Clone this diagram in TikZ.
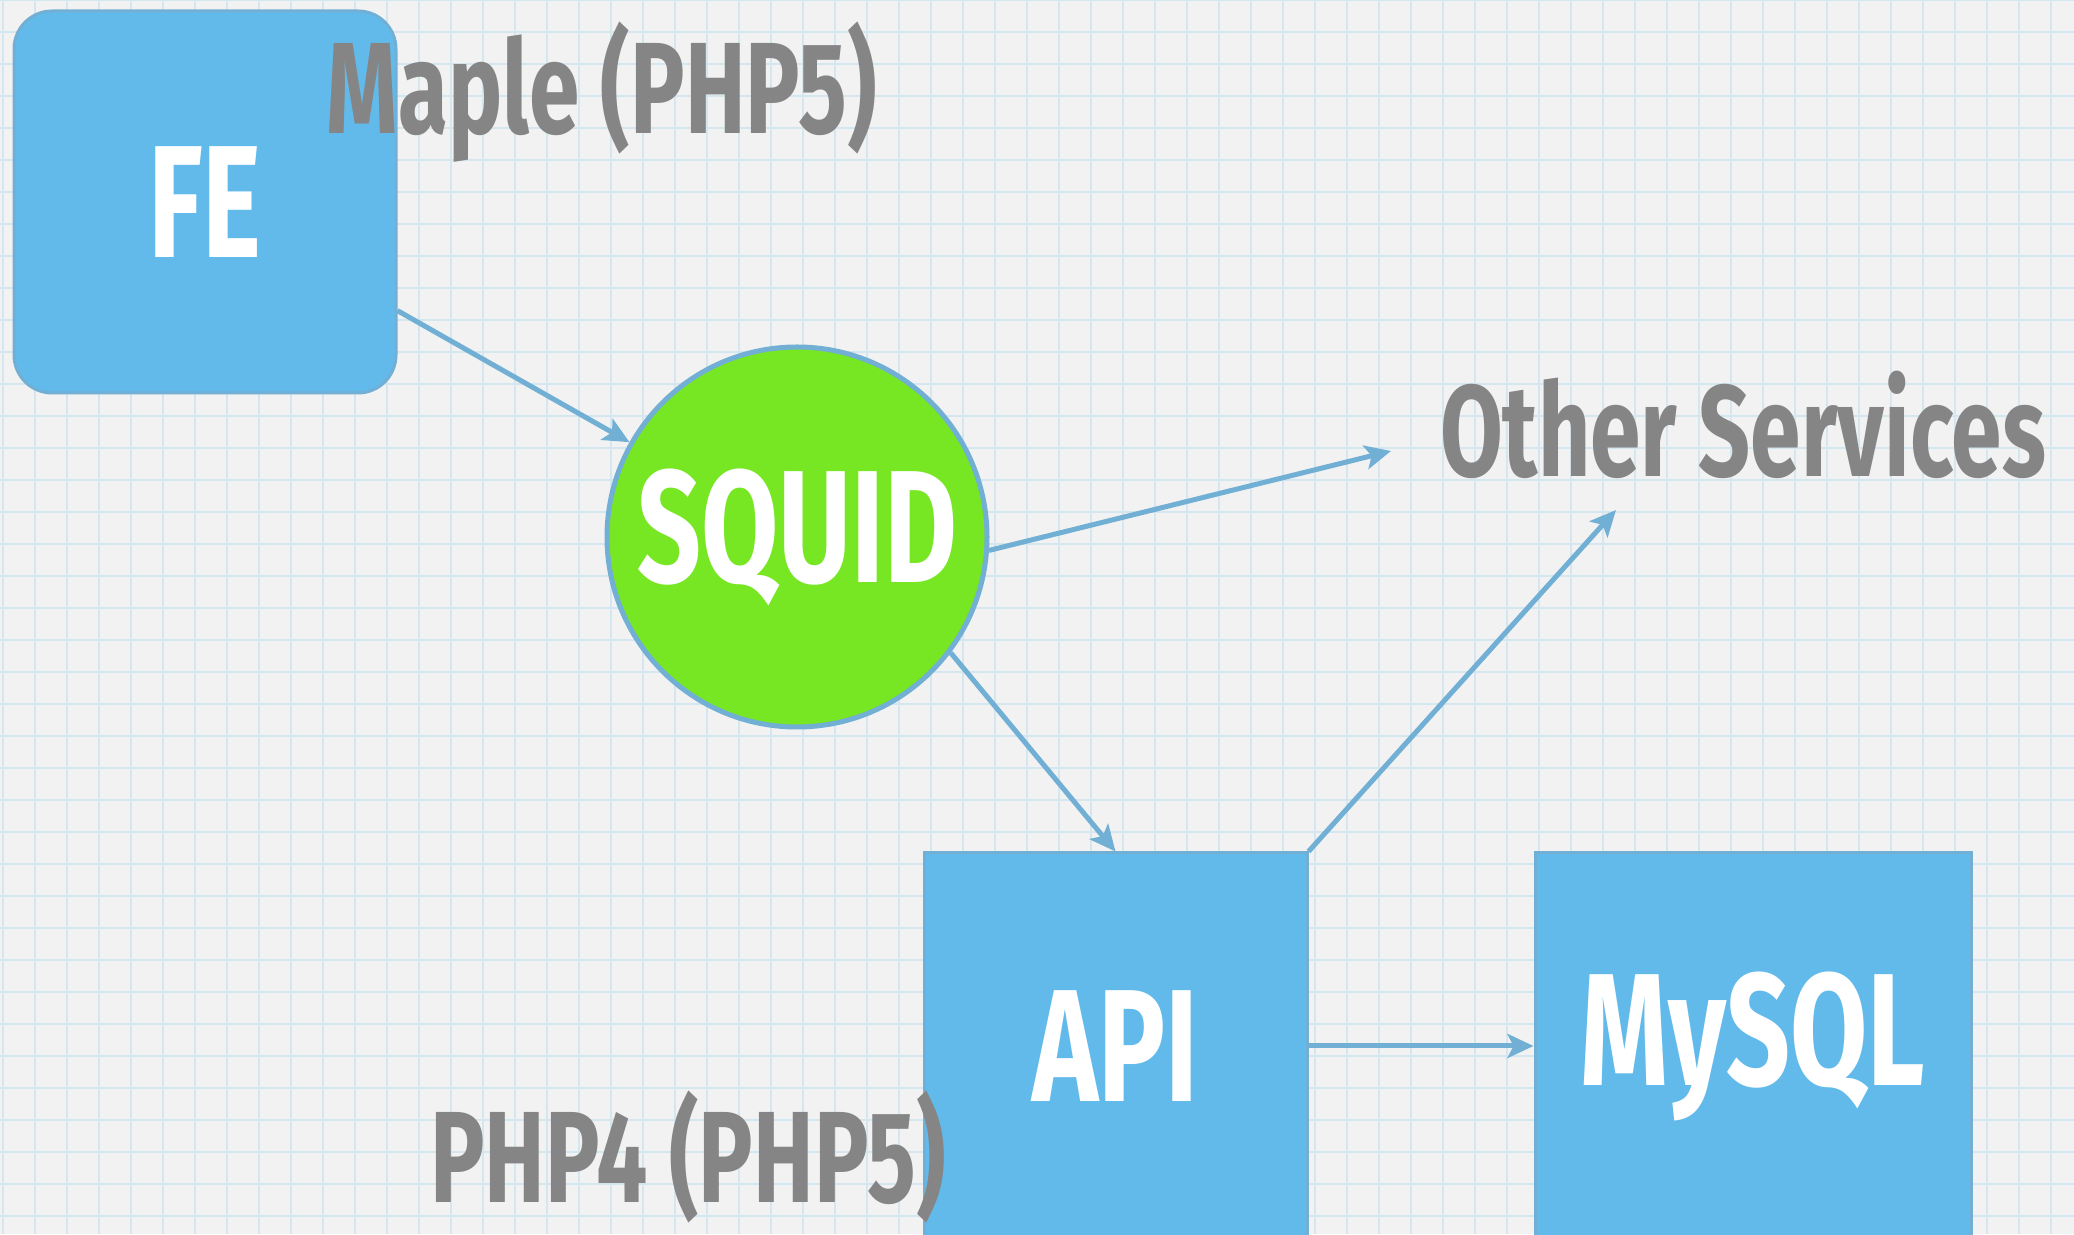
\documentclass[tikz,border=0pt]{standalone}
\usepackage{fontspec}
\setmainfont[FakeStretch=0.7]{Fira Sans}
\usetikzlibrary{arrows.meta}
\definecolor{paper}{HTML}{F2F2F2}
\definecolor{gridblue}{HTML}{D4E6EF}
\definecolor{boxblue}{HTML}{5BB8EB}
\definecolor{edgeblue}{HTML}{72AFD5}
\definecolor{squidgreen}{HTML}{77E623}
\definecolor{inkgray}{HTML}{858585}
\begin{document}
\begin{tikzpicture}[
            x = 1pt, y = 1pt,
            box/.style = {draw = edgeblue, line width = 3pt, fill = boxblue, fill opacity = 0.95, text opacity = 1,
                          text = white, font = \fontsize{160}{160}\selectfont\bfseries},
            ball/.style = {circle, draw = edgeblue, line width = 5pt, fill = squidgreen, minimum size = 380pt,
                           inner sep = 0pt, text = white, font = \fontsize{160}{160}\selectfont\bfseries},
            note/.style = {anchor = base, inner sep = 0pt, text = inkgray, font = \fontsize{130}{130}\selectfont\bfseries},
            link/.style = {draw = edgeblue, line width = 5pt, -{Stealth[length = 26pt, width = 24pt, inset = 6pt]}}
            ]
            \useasboundingbox (0,0) rectangle (2074,1234);
            \fill[paper] (0,0) rectangle (2074,1234);
            % squared paper
            \foreach \gx in {3,35,...,2074}
                \draw[gridblue, line width = 2.5pt] (\gx,0) -- (\gx,1234);
            \foreach \gy in {18,50,...,1234}
                \draw[gridblue, line width = 2.5pt] (0,\gy) -- (2074,\gy);

            \node[box, rounded corners = 38pt, minimum width = 382pt, minimum height = 382pt] (fe) at (205,1032) {FE};
            \node[ball] (squid) at (797,697) {SQUID};
            \node[box, minimum width = 383pt, minimum height = 386pt] (api) at (1115.5,188) {API};
            \node[box, minimum width = 436pt, minimum height = 386pt] (mysql) at (1753,188) {MySQL};

            \node[note] (maple) at (602,1100) {Maple (PHP5)};
            \node[note] (other) at (1743,757) {Other Services};
            \node[note] (php) at (688,32) {PHP4 (PHP5)};

            \coordinate (otherin) at (1391,783);
            \coordinate (otherup) at (1616,724);

            \draw[link] (fe) -- (squid);
            \draw[link] (squid.-4) -- (otherin);
            \draw[link] (squid.-37) -- (api.north);
            \draw[link] (api.north east) -- (otherup);
            \draw[link] (api) -- (mysql);
          \end{tikzpicture}
\end{document}
